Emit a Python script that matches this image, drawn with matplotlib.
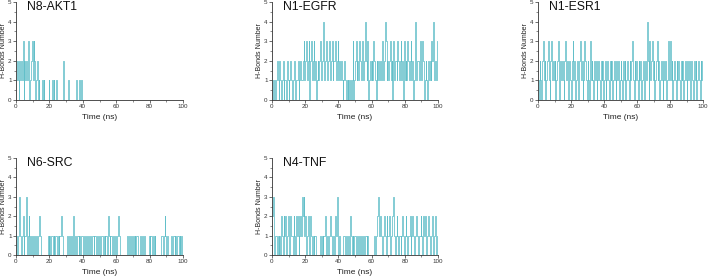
import matplotlib
matplotlib.use("Agg")
import matplotlib.pyplot as plt
import numpy as np

plt.rcParams['font.family'] = ['Liberation Sans', 'DejaVu Sans']

time_step = 0.5  # ns between samples

titles = ["N8-AKT1", "N1-EGFR", "N1-ESR1", "N6-SRC", "N4-TNF"]

akt1 = [
    1, 2, 1, 0, 2, 1, 2, 1, 3, 0, 2, 1, 2, 1, 3, 2, 0, 1, 2, 3,
    1, 3, 2, 0, 1, 2, 0, 1, 0, 0, 0, 1, 0, 1, 0, 0, 0, 0, 0, 1,
    0, 0, 0, 1, 0, 1, 0, 0, 1, 0, 0, 0, 0, 0, 0, 0, 2, 1, 0, 0,
    0, 0, 1, 0, 0, 0, 0, 0, 0, 0, 0, 0, 1, 0, 0, 0, 1, 0, 1, 0,
    0, 0, 0, 0, 0, 0, 0, 0, 0, 0, 0, 0, 0, 0, 0, 0, 0, 0, 0, 0,
    0, 0, 0, 0, 0, 0, 0, 0, 0, 0, 0, 0, 0, 0, 0, 0, 0, 0, 0, 0,
    0, 0, 0, 0, 0, 0, 0, 0, 0, 0, 0, 0, 0, 0, 0, 0, 0, 0, 0, 0,
    0, 0, 0, 0, 0, 0, 0, 0, 0, 0, 0, 0, 0, 0, 0, 0, 0, 0, 0, 0,
    0, 0, 0, 0, 0, 0, 0, 0, 0, 0, 0, 0, 0, 0, 0, 0, 0, 0, 0, 0,
    0, 0, 0, 0, 0, 0, 0, 0, 0, 0, 0, 0, 0, 0, 0, 0, 0, 0, 0, 0,
    0,
]

egfr = [
    1, 0, 1, 1, 0, 1, 2, 1, 0, 2, 1, 0, 1, 2, 0, 1, 1, 0, 2, 1,
    0, 1, 2, 1, 0, 1, 1, 2, 0, 1, 1, 2, 0, 1, 2, 1, 1, 2, 3, 1,
    2, 3, 1, 2, 3, 0, 2, 3, 1, 2, 3, 1, 2, 0, 1, 2, 1, 2, 3, 1,
    2, 3, 4, 1, 2, 3, 1, 2, 2, 3, 1, 2, 3, 1, 2, 2, 3, 1, 2, 3,
    1, 2, 1, 2, 1, 0, 1, 2, 1, 0, 1, 0, 1, 0, 1, 0, 1, 3, 0, 1,
    2, 3, 1, 2, 1, 3, 2, 1, 2, 3, 1, 2, 4, 2, 1, 3, 0, 1, 2, 1,
    2, 1, 3, 2, 1, 0, 2, 1, 2, 1, 2, 1, 2, 3, 1, 2, 4, 3, 1, 2,
    1, 2, 3, 1, 2, 0, 3, 1, 2, 2, 1, 3, 2, 1, 2, 3, 1, 2, 0, 3,
    1, 2, 1, 3, 2, 1, 2, 3, 1, 2, 0, 1, 4, 3, 1, 2, 2, 1, 3, 2,
    1, 3, 2, 0, 1, 2, 1, 0, 2, 1, 2, 1, 3, 2, 4, 1, 2, 1, 1, 3,
    2,
]

esr1 = [
    1, 0, 2, 1, 0, 2, 3, 1, 2, 0, 1, 2, 3, 1, 0, 2, 3, 1, 2, 1,
    2, 0, 1, 2, 3, 1, 0, 2, 1, 2, 1, 0, 2, 3, 1, 2, 0, 1, 2, 1,
    0, 2, 3, 1, 2, 0, 1, 2, 1, 0, 2, 3, 1, 2, 0, 1, 3, 2, 1, 0,
    2, 1, 0, 3, 1, 2, 1, 0, 2, 1, 2, 0, 1, 2, 1, 0, 2, 1, 2, 0,
    1, 2, 0, 1, 2, 1, 0, 2, 1, 2, 0, 1, 2, 1, 0, 2, 1, 2, 0, 1,
    2, 1, 0, 2, 1, 2, 0, 1, 2, 1, 0, 2, 1, 2, 3, 1, 0, 2, 1, 2,
    1, 0, 2, 1, 2, 0, 1, 2, 1, 0, 2, 1, 4, 2, 0, 3, 1, 2, 3, 1,
    2, 0, 1, 2, 3, 1, 2, 0, 1, 2, 1, 0, 2, 1, 2, 0, 1, 2, 3, 1,
    3, 1, 2, 0, 1, 2, 1, 0, 2, 1, 2, 1, 0, 2, 1, 2, 0, 1, 2, 1,
    0, 2, 1, 2, 0, 1, 2, 1, 0, 2, 1, 2, 0, 1, 2, 1, 0, 2, 1, 2,
    1,
]

src = [
    1, 0, 1, 2, 3, 1, 0, 1, 2, 0, 1, 1, 3, 0, 1, 2, 0, 1, 0, 1,
    0, 1, 1, 0, 1, 0, 1, 1, 2, 1, 0, 0, 0, 0, 0, 0, 0, 0, 1, 0,
    1, 0, 1, 1, 0, 1, 0, 1, 1, 0, 1, 0, 1, 1, 2, 1, 0, 0, 0, 0,
    0, 1, 0, 1, 1, 0, 1, 0, 2, 1, 0, 1, 0, 1, 1, 0, 1, 0, 1, 1,
    0, 1, 1, 0, 1, 0, 1, 1, 0, 1, 0, 1, 1, 0, 1, 1, 0, 1, 0, 1,
    1, 0, 1, 1, 0, 1, 0, 1, 1, 0, 2, 1, 0, 1, 1, 0, 1, 0, 1, 1,
    0, 1, 2, 1, 0, 0, 0, 0, 0, 0, 0, 0, 0, 1, 0, 1, 0, 0, 1, 0,
    1, 0, 1, 0, 1, 1, 0, 0, 0, 1, 0, 1, 0, 1, 1, 0, 0, 0, 0, 1,
    0, 1, 1, 0, 1, 0, 1, 0, 0, 0, 0, 0, 0, 0, 1, 1, 0, 1, 2, 1,
    0, 1, 0, 0, 0, 0, 1, 0, 1, 1, 0, 1, 0, 1, 1, 0, 1, 0, 1, 0,
    0,
]

tnf = [
    2, 3, 1, 0, 1, 1, 0, 1, 0, 1, 0, 2, 1, 0, 2, 1, 2, 0, 1, 2,
    1, 0, 2, 1, 1, 0, 2, 1, 0, 2, 1, 2, 0, 1, 2, 1, 3, 2, 3, 1,
    2, 0, 1, 2, 1, 0, 2, 1, 0, 1, 0, 1, 1, 0, 0, 0, 0, 0, 1, 0,
    1, 0, 1, 1, 2, 0, 1, 1, 0, 1, 2, 1, 0, 1, 1, 0, 2, 1, 3, 1,
    0, 1, 0, 0, 0, 0, 1, 1, 0, 1, 0, 1, 1, 0, 2, 1, 0, 1, 0, 1,
    1, 0, 1, 1, 0, 1, 0, 1, 1, 0, 1, 0, 1, 1, 0, 1, 0, 0, 0, 0,
    0, 0, 0, 1, 0, 1, 1, 2, 3, 1, 2, 1, 1, 0, 1, 2, 1, 0, 2, 1,
    1, 2, 0, 1, 1, 2, 3, 1, 0, 1, 2, 1, 0, 1, 1, 0, 1, 2, 1, 0,
    1, 2, 1, 0, 1, 1, 2, 0, 1, 2, 1, 0, 1, 1, 2, 1, 0, 1, 1, 2,
    1, 0, 2, 1, 2, 1, 0, 1, 2, 1, 0, 1, 1, 2, 0, 1, 2, 1, 0, 1,
    1,
]

series = [akt1, egfr, esr1, src, tnf]

W, H = 709, 278
fig = plt.figure(figsize=(W / 100, H / 100), dpi=100)

# axes boxes in pixels: (left, top, right, bottom)
boxes = [
    (16, 2, 183, 100),
    (272, 2, 438, 100),
    (538, 2, 703, 100),
    (16, 158, 183, 255),
    (272, 158, 438, 255),
]

line_color = '#62bfc9'

for title, vals, (l, t, r, b) in zip(titles, series, boxes):
    ax = fig.add_axes([l / W, 1 - b / H, (r - l) / W, (b - t) / H])
    y = np.array(vals)
    x = np.arange(len(y)) * time_step
    ax.plot(x, y, color=line_color, lw=0.55, drawstyle='steps-post')
    ax.set_xlim(0, 100)
    ax.set_ylim(0, 5)
    ax.set_xticks([0, 20, 40, 60, 80, 100])
    ax.set_xticks([10, 30, 50, 70, 90], minor=True)
    ax.set_yticks([0, 1, 2, 3, 4, 5])
    ax.set_yticks([0.5, 1.5, 2.5, 3.5, 4.5], minor=True)
    for s in ['top', 'right']:
        ax.spines[s].set_visible(False)
    for s in ['left', 'bottom']:
        ax.spines[s].set_linewidth(0.6)
        ax.spines[s].set_color('#333333')
    ax.tick_params(which='major', direction='out', length=2.0, width=0.5,
                   labelsize=4.5, pad=1.2, colors='#333333')
    ax.tick_params(which='minor', direction='out', length=1.2, width=0.4,
                   colors='#333333')
    ax.set_xlabel('Time (ns)', fontsize=6, labelpad=3.5, color='#222222')
    ax.set_ylabel('H-Bonds Number', fontsize=5, labelpad=0.5, color='#222222')
    ax.text(0.065, 0.945, title, transform=ax.transAxes, fontsize=8.8,
            va='center', ha='left', color='#111111')

fig.savefig('out.png', dpi=100)
